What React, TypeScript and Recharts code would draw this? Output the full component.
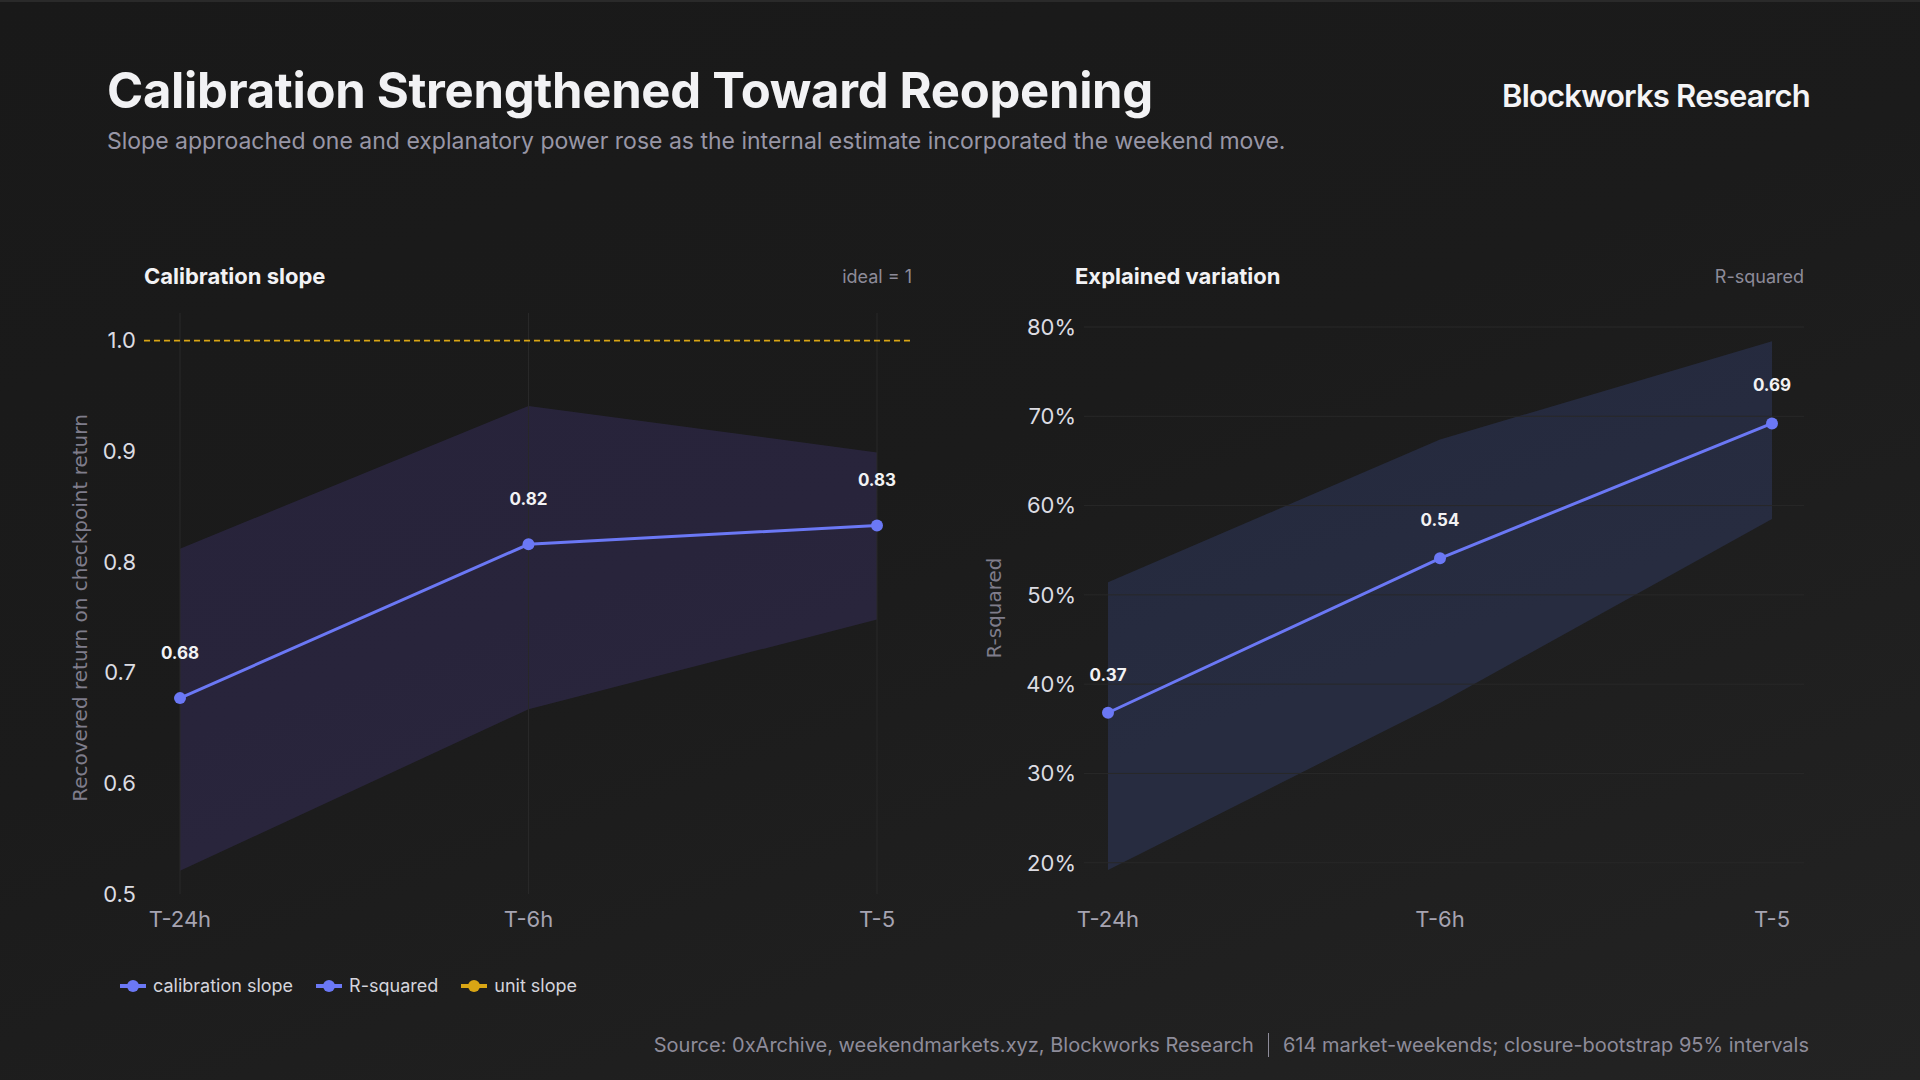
import {
  ComposedChart,
  Line,
  Area,
  XAxis,
  YAxis,
  ReferenceLine,
  LabelList,
} from "recharts";

const checkpoints = ["T-24h", "T-6h", "T-5"];

const slopeValues = [0.677, 0.816, 0.833];
const slopeLow = [0.521, 0.667, 0.748];
const slopeHigh = [0.812, 0.941, 0.899];
const slopeTicks = [0.5, 0.6, 0.7, 0.8, 0.9, 1.0];

const rsqValues = [0.368, 0.541, 0.692];
const rsqLow = [0.192, 0.379, 0.585];
const rsqHigh = [0.514, 0.674, 0.784];
const rsqTicks = [0.2, 0.3, 0.4, 0.5, 0.6, 0.7, 0.8];

const legendItems = [
  { name: "calibration slope", color: "#6b78f5" },
  { name: "R-squared", color: "#6b78f5" },
  { name: "unit slope", color: "#d9a514" },
];

const slopeData = checkpoints.map((c, i) => ({
  checkpoint: c,
  slope: slopeValues[i],
  band: [slopeLow[i], slopeHigh[i]],
}));

const rsqData = checkpoints.map((c, i) => ({
  checkpoint: c,
  rsq: rsqValues[i],
  band: [rsqLow[i], rsqHigh[i]],
}));

const LINE = "#6b78f5";
const GRID = "#282828";
const FONT = "Inter, 'Noto Sans', sans-serif";

const yTick = { fill: "#dcdce2", fontSize: 22, fontFamily: FONT };
const xTick = { fill: "#a6a4b2", fontSize: 22, fontFamily: FONT };

function LegendIcon({ color }: { color: string }) {
  return (
    <svg width={26} height={14} style={{ display: "block" }}>
      <line x1={0} y1={7} x2={26} y2={7} stroke={color} strokeWidth={4} />
      <circle cx={13} cy={7} r={6} fill={color} />
    </svg>
  );
}

function abs(left: number, top: number, extra: any = {}) {
  return { position: "absolute" as const, left, top, ...extra };
}

export default function App() {
  return (
    <div
      style={{
        position: "absolute",
        left: 0,
        top: 0,
        width: 1920,
        height: 1080,
        overflow: "hidden",
        fontFamily: FONT,
        background:
          "linear-gradient(160deg, #191919 0%, #1b1b1b 45%, #232323 100%)",
        borderTop: "2px solid #2a2a2a",
        boxSizing: "border-box",
      }}
    >
      <div
        style={abs(107, 64, {
          fontSize: 49,
          fontWeight: 700,
          color: "#f2f2f4",
          lineHeight: 1,
          whiteSpace: "nowrap",
          letterSpacing: -0.3,
        })}
      >
        Calibration Strengthened Toward Reopening
      </div>
      <div
        style={abs(107, 128, {
          fontSize: 23,
          color: "#9896a6",
          lineHeight: 1,
          whiteSpace: "nowrap",
        })}
      >
        Slope approached one and explanatory power rose as the internal
        estimate incorporated the weekend move.
      </div>
      <div
        style={{
          position: "absolute",
          right: 110,
          top: 78,
          fontSize: 31,
          fontWeight: 600,
          color: "#f4f4f6",
          lineHeight: 1,
          letterSpacing: -0.8,
          whiteSpace: "nowrap",
        }}
      >
        Blockworks Research
      </div>

      {/* panel headers */}
      <div
        style={abs(144, 263, {
          fontSize: 22,
          fontWeight: 700,
          color: "#f2f2f4",
          lineHeight: 1,
        })}
      >
        Calibration slope
      </div>
      <div
        style={{
          position: "absolute",
          right: 1920 - 912,
          top: 266,
          fontSize: 18,
          color: "#8d8b99",
          lineHeight: 1,
        }}
      >
        ideal = 1
      </div>
      <div
        style={abs(1075, 263, {
          fontSize: 22,
          fontWeight: 700,
          color: "#f2f2f4",
          lineHeight: 1,
        })}
      >
        Explained variation
      </div>
      <div
        style={{
          position: "absolute",
          right: 1920 - 1804,
          top: 266,
          fontSize: 18,
          color: "#8d8b99",
          lineHeight: 1,
        }}
      >
        R-squared
      </div>

      {/* y axis titles */}
      <div
        style={abs(80, 606, {
          transform: "translate(-50%, -50%) rotate(-90deg)",
          fontFamily: "'DejaVu Sans', sans-serif",
          fontSize: 20,
          color: "#7f7d8b",
          whiteSpace: "nowrap",
          lineHeight: 1,
        })}
      >
        Recovered return on checkpoint return
      </div>
      <div
        style={abs(994, 606, {
          transform: "translate(-50%, -50%) rotate(-90deg)",
          fontFamily: "'DejaVu Sans', sans-serif",
          fontSize: 20,
          color: "#7f7d8b",
          whiteSpace: "nowrap",
          lineHeight: 1,
        })}
      >
        R-squared
      </div>

      {/* left chart */}
      <div style={abs(0, 0)}>
        <ComposedChart
          width={960}
          height={1000}
          data={slopeData}
          margin={{ top: 311, right: 48, bottom: 78, left: 84 }}
        >
          <XAxis
            dataKey="checkpoint"
            padding={{ left: 36, right: 35 }}
            axisLine={false}
            tickLine={false}
            tick={xTick}
            tickMargin={11}
            height={30}
          />
          <YAxis
            type="number"
            domain={[0.5, 1.025]}
            ticks={slopeTicks}
            tickFormatter={(v: number) => v.toFixed(1)}
            axisLine={false}
            tickLine={false}
            tick={yTick}
            width={60}
          />
          {checkpoints.map((c) => (
            <ReferenceLine key={c} x={c} stroke={GRID} strokeWidth={1} />
          ))}
          <Area
            dataKey="band"
            type="linear"
            stroke="none"
            fill="rgb(97,77,192)"
            fillOpacity={0.2}
            isAnimationActive={false}
            activeDot={false}
          />
          <ReferenceLine
            y={1}
            stroke="#d9a514"
            strokeDasharray="6 4"
            strokeWidth={1.8}
          />
          <Line
            dataKey="slope"
            type="linear"
            stroke={LINE}
            strokeWidth={3}
            dot={{ r: 6, fill: LINE, stroke: LINE, strokeWidth: 0 }}
            activeDot={false}
            isAnimationActive={false}
          >
            <LabelList
              dataKey="slope"
              position="top"
              offset={39}
              formatter={(v: any) => Number(v).toFixed(2)}
              fill="#f2f2f4"
              fontSize={17}
              fontWeight={700}
              fontFamily={FONT}
            />
          </Line>
        </ComposedChart>
      </div>

      {/* right chart */}
      <div style={abs(960, 0)}>
        <ComposedChart
          width={960}
          height={1000}
          data={rsqData}
          margin={{ top: 325, right: 116, bottom: 78, left: 64 }}
        >
          <XAxis
            dataKey="checkpoint"
            padding={{ left: 24, right: 32 }}
            axisLine={false}
            tickLine={false}
            tick={xTick}
            tickMargin={11}
            height={30}
          />
          <YAxis
            type="number"
            domain={[0.165, 0.8]}
            ticks={rsqTicks}
            tickFormatter={(v: number) => `${Math.round(v * 100)}%`}
            axisLine={false}
            tickLine={false}
            tick={yTick}
            width={60}
          />
          {rsqTicks.map((t) => (
            <ReferenceLine key={t} y={t} stroke={GRID} strokeWidth={1} />
          ))}
          <Area
            dataKey="band"
            type="linear"
            stroke="none"
            fill="rgb(77,102,202)"
            fillOpacity={0.2}
            isAnimationActive={false}
            activeDot={false}
          />
          <Line
            dataKey="rsq"
            type="linear"
            stroke={LINE}
            strokeWidth={3}
            dot={{ r: 6, fill: LINE, stroke: LINE, strokeWidth: 0 }}
            activeDot={false}
            isAnimationActive={false}
          >
            <LabelList
              dataKey="rsq"
              position="top"
              offset={32}
              formatter={(v: any) => Number(v).toFixed(2)}
              fill="#f2f2f4"
              fontSize={17}
              fontWeight={700}
              fontFamily={FONT}
            />
          </Line>
        </ComposedChart>
      </div>

      {/* legend */}
      <div
        style={abs(120, 973, {
          display: "flex",
          alignItems: "center",
          gap: 23,
          height: 22,
        })}
      >
        {legendItems.map((it) => (
          <div
            key={it.name}
            style={{ display: "flex", alignItems: "center", gap: 7 }}
          >
            <LegendIcon color={it.color} />
            <span style={{ fontSize: 18, color: "#d4d4dc", lineHeight: 1 }}>
              {it.name}
            </span>
          </div>
        ))}
      </div>

      {/* footer */}
      <div
        style={{
          position: "absolute",
          right: 111,
          top: 1031,
          display: "flex",
          alignItems: "center",
          fontSize: 20,
          color: "#8e8c9a",
          lineHeight: 1,
          whiteSpace: "nowrap",
        }}
      >
        <span>Source: 0xArchive, weekendmarkets.xyz, Blockworks Research</span>
        <span
          style={{
            display: "inline-block",
            width: 1,
            height: 24,
            background: "#8e8c9a",
            margin: "0 14px",
          }}
        />
        <span>614 market-weekends; closure-bootstrap 95% intervals</span>
      </div>
    </div>
  );
}
